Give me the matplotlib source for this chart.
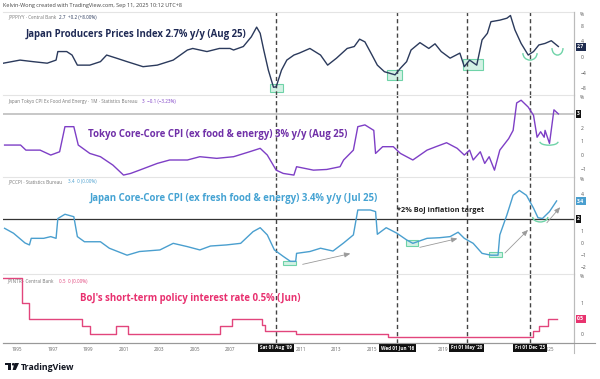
import matplotlib
matplotlib.use("Agg")
import matplotlib.pyplot as plt
import matplotlib.transforms as mtransforms
from matplotlib.patches import Rectangle, Arc, Circle, Polygon

# ---- data (decimal years) ----
ppi_dates = [1994.23, 1995.17, 1995.9, 1996.7, 1997.2, 1997.3, 1997.8, 1998.1, 1998.4, 1999.1,
             1999.7, 2000.05, 2000.6, 2001.2, 2002.1, 2002.9, 2003.8, 2004.6, 2004.9, 2005.7,
             2006.4, 2007.0, 2007.2, 2007.75, 2008.2, 2008.5, 2008.7, 2008.9, 2009.16, 2009.45,
             2009.6, 2009.9, 2010.2, 2010.6, 2010.9, 2011.5, 2012.1, 2012.5, 2013.0, 2013.6,
             2014.0, 2014.3, 2014.6, 2015.0, 2015.3, 2015.7, 2016.3, 2016.6, 2016.95, 2017.2,
             2017.7, 2018.2, 2018.55, 2018.9, 2019.4, 2019.95, 2020.2, 2020.5, 2020.9, 2021.2,
             2021.5, 2021.7, 2022.2, 2022.6, 2022.8, 2023.05, 2023.4, 2023.8, 2024.1, 2024.4,
             2024.75, 2025.1, 2025.5]
ppi_values = [-1.6, -0.8, -1.2, -1.6, -0.8, 1.4, 1.4, 0.5, -2.1, -2.1,
              -1.2, 0.5, -0.3, -1.2, -2.5, -2.1, -0.8, 1.8, 2.2, 1.4,
              2.2, 2.2, 1.8, 2.7, 5.2, 7.7, 6.1, 1.8, -3.4, -7.8,
              -7.7, -3.4, -0.8, 0.5, 1.0, 2.2, 0.5, -2.1, -0.3, 2.2,
              2.7, 4.6, 3.9, 0.5, -2.1, -3.8, -4.6, -2.9, -1.2, 1.8,
              3.7, 2.2, 3.4, 1.4, -0.3, 1.0, -2.5, -0.8, -2.1, 4.4,
              6.1, 9.1, 9.5, 10.0, 10.7, 7.0, 3.5, 0.5, 1.4, 3.1,
              3.5, 4.2, 2.7]

tokyo_dates = [1994.3, 1995.2, 1995.5, 1996.3, 1996.9, 1997.4, 1997.7, 1998.2, 1998.45, 1999.1,
               1999.7, 2000.4, 2001.0, 2001.4, 2001.9, 2002.9, 2003.6, 2004.6, 2005.3, 2006.25,
               2007.2, 2008.1, 2008.7, 2009.1, 2009.6, 2010.0, 2010.6, 2010.75, 2011.7, 2012.45,
               2013.2, 2013.4, 2013.95, 2014.2, 2014.6, 2015.1, 2015.2, 2015.6, 2016.2, 2016.6,
               2017.3, 2018.1, 2018.6, 2019.2, 2019.8, 2020.2, 2020.5, 2020.7, 2021.1, 2021.35,
               2021.6, 2021.9, 2022.2, 2022.7, 2022.95, 2023.15, 2023.4, 2023.8, 2024.1, 2024.3,
               2024.5, 2024.7, 2024.75, 2025.0, 2025.25, 2025.5]
tokyo_values = [0.73, 0.73, 0.36, 0.36, 0.0, 0.24, 2.07, 2.07, 0.73, 0.12,
                -0.12, -0.73, -1.46, -1.34, -1.1, -0.61, -0.36, -0.36, -0.12, -0.24,
                -0.12, 0.24, 0.49, 0.0, -1.1, -1.34, -1.46, -0.85, -1.1, -1.05,
                -0.85, -0.36, 0.36, 2.07, 2.2, 1.8, 0.12, 0.61, 0.61, 0.12,
                -0.36, 0.36, 0.61, 0.9, 0.49, 0.0, 0.36, -0.36, 0.24, -0.61,
                -0.12, -1.1, 0.36, 1.2, 1.8, 3.8, 4.0, 3.5, 2.9, 1.3,
                1.7, 1.3, 1.8, 0.85, 3.3, 3.0]

core_dates = [1994.3, 1994.8, 1995.45, 1995.7, 1995.8, 1996.5, 1996.9, 1997.2, 1997.3, 1997.7,
              1998.2, 1998.4, 1998.8, 1999.7, 2000.2, 2001.2, 2001.9, 2003.05, 2003.8, 2004.6,
              2005.3, 2005.9, 2006.8, 2007.6, 2008.3, 2008.7, 2009.1, 2009.5, 2010.0, 2010.4,
              2010.7, 2010.75, 2011.5, 2012.1, 2012.8, 2013.4, 2013.95, 2014.2, 2014.9, 2015.2,
              2015.3, 2015.8, 2016.4, 2016.95, 2017.3, 2018.1, 2018.8, 2019.4, 2019.85, 2020.2,
              2020.7, 2021.2, 2021.7, 2022.1, 2022.2, 2022.6, 2022.95, 2023.3, 2023.7, 2024.1,
              2024.35, 2024.6, 2025.0, 2025.4]
core_values = [1.2, 0.8, 0.0, -0.16, 0.38, 0.38, 0.52, 0.38, 2.0, 2.35,
               2.15, 0.52, 0.1, 0.1, -0.43, -1.0, -0.7, -0.57, -0.03, -0.3,
               -0.57, -0.25, -0.16, -0.03, 0.93, 1.25, 0.66, -0.57, -1.1, -1.5,
               -1.5, -0.85, -0.7, -0.43, -0.66, 0.0, 0.66, 2.7, 2.7, 2.57,
               0.71, 1.25, 0.8, 0.25, -0.03, 0.38, 0.43, 0.52, 0.88, 0.38,
               -0.03, -0.85, -1.0, -1.0, 0.66, 2.3, 3.9, 4.3, 3.9, 2.85,
               2.07, 2.0, 2.57, 3.44]

rate_dates = [1994.2, 1995.28, 1995.68, 1998.66, 1999.1, 2000.58, 2001.25, 2006.44, 2007.1,
              2008.8, 2008.95, 2010.7, 2015.9, 2024.05, 2024.4, 2024.93, 2025.45]
rate_values = [1.8, 1.0, 0.5, 0.25, 0.0, 0.25, 0.0, 0.25, 0.5,
               0.3, 0.1, 0.0, -0.1, 0.1, 0.25, 0.5, 0.5]

event_dates = [2009.58, 2016.42, 2020.33, 2023.92]
event_labels = ["Sat 01 Aug '09", "Wed 01 Jun '16", "Fri 01 May '20", "Fri 01 Dec '23"]
year_ticks = list(range(1995, 2026, 2))
hidden_years = [2009, 2017, 2021, 2023]  # sit under the date boxes

NAVY = "#2b3a5c"
PURPLE = "#7e3fc6"
BLUE = "#4a9fcf"
PINK = "#e2457c"
GREEN = "#6fd3a8"
GRID = "#e4e4e4"

plt.rcParams["font.family"] = ["Open Sans", "DejaVu Sans"]

W, H = 600, 379
fig = plt.figure(figsize=(W / 100, H / 100), dpi=100)
XMIN, XMAX = 1994.21, 2026.38


def panel(top, bottom):
    return fig.add_axes([3 / W, 1 - bottom / H, 571 / W, (bottom - top) / H])


ax1 = panel(12, 95)
ax2 = panel(95, 177)
ax3 = panel(177, 274)
ax4 = panel(274, 343)
axes = [ax1, ax2, ax3, ax4]

ax1.plot(ppi_dates, ppi_values, color=NAVY, lw=1.0)
ax2.plot(tokyo_dates, tokyo_values, color=PURPLE, lw=1.0)
ax3.plot(core_dates, core_values, color=BLUE, lw=1.0)
ax4.plot(rate_dates, rate_values, color=PINK, lw=1.0, drawstyle="steps-post")

ax1.set_ylim(-9.8, 11.6)
ax2.set_ylim(-1.6, 4.38)
ax3.set_ylim(-2.54, 5.4)
ax4.set_ylim(-0.29, 1.94)
ax1.set_yticks([8, 4, 0, -4, -8])
ax2.set_yticks([2, 1, 0, -1])
ax3.set_yticks([4, 1, 0, -1, -2])
ax4.set_yticks([1, 0])

for ax in axes:
    ax.set_xlim(XMIN, XMAX)
    ax.yaxis.tick_right()
    ax.tick_params(axis="y", labelsize=3.6, colors="#555555", length=0, pad=5)
    ax.set_yticklabels([str(t).replace("-", "\u2212") for t in ax.get_yticks()])
    for s in ["left", "bottom"]:
        ax.spines[s].set_visible(False)
    ax.spines["top"].set_color(GRID)
    ax.spines["top"].set_linewidth(0.8)
    ax.spines["right"].set_color("#bbbbbb")
    ax.spines["right"].set_linewidth(0.8)
    ax.patch.set_alpha(0)
    for d in event_dates:
        ax.axvline(d, color="#444444", lw=1.0, dashes=(3, 2.2), zorder=1)
    ax.text(1 + 6 / 571, 1, "%", transform=ax.transAxes, fontsize=3.6,
            color="#555555", ha="left", va="top")
    ax.set_xticks([])

ax4.spines["bottom"].set_visible(True)
ax4.spines["bottom"].set_color("#999999")
ax4.spines["bottom"].set_linewidth(0.8)
ax4.set_xticks(year_ticks)
ax4.set_xticklabels(["" if y in hidden_years else str(y) for y in year_ticks])
ax4.tick_params(axis="x", labelsize=3.3, colors="#666666", length=0, pad=3)

# reference lines
ax2.axhline(3, color="#bdbdbd", lw=1.2, zorder=0.5)
ax3.axhline(2, color="#333333", lw=0.9, zorder=0.5)


def tag(ax, val, text, color):
    tr = mtransforms.blended_transform_factory(ax.transAxes, ax.transData)
    ax.text(1 + 3 / 571, val, text, transform=tr, fontsize=3.6, color="white",
            ha="left", va="center", clip_on=False, weight="bold",
            bbox=dict(boxstyle="square,pad=0.3", fc=color, ec="none"))


tag(ax1, 2.7, "2.7", "#1f2c4f")
tag(ax2, 3, "3", "#111111")
tag(ax3, 3.4, "3.4", BLUE)
tag(ax3, 2, "2", "#111111")
tag(ax4, 0.5, "0.5", "#e8336f")

# event date labels under the time axis
tr4 = mtransforms.blended_transform_factory(ax4.transData, ax4.transAxes)
for d, lab in zip(event_dates, event_labels):
    ax4.text(d, -0.065, lab, transform=tr4, fontsize=3.3, color="white",
             ha="center", va="center", clip_on=False, weight="bold", zorder=10,
             bbox=dict(boxstyle="square,pad=0.45", fc="#111111", ec="none"))

# green highlight boxes and arcs
for ax, (x, y, w, h) in [(ax1, (2009.25, -9.0, 0.75, 2.0)),
                         (ax1, (2015.85, -5.9, 0.85, 2.55)),
                         (ax1, (2020.13, -3.35, 1.12, 2.85)),
                         (ax3, (2009.99, -1.8, 0.73, 0.32)),
                         (ax3, (2016.9, -0.25, 0.7, 0.5)),
                         (ax3, (2021.6, -1.15, 0.7, 0.41))]:
    ax.add_patch(Rectangle((x, y), w, h, fc=GREEN, ec="none", alpha=0.3, zorder=0.8))
    ax.add_patch(Rectangle((x, y), w, h, fill=False, ec=GREEN, lw=0.8, zorder=0.9))

for ax, (cx, cy, w, h) in [(ax1, (2023.9, 1.0, 0.8, 3.6)),
                           (ax1, (2025.45, 2.3, 0.62, 3.6)),
                           (ax2, (2024.97, 0.97, 1.02, 0.5)),
                           (ax3, (2024.48, 2.13, 0.85, 0.82))]:
    ax.add_patch(Arc((cx, cy), w, h, theta1=180, theta2=360, color=GREEN, lw=1.0))

for (x0, y0), (x1, y1) in [((2010.94, -1.8), (2013.93, -0.82)),
                           ((2017.54, -0.41), (2019.96, 0.41)),
                           ((2022.38, -0.98), (2023.9, 1.23)),
                           ((2024.75, 1.48), (2025.7, 3.1))]:
    ax3.annotate("", xy=(x1, y1), xytext=(x0, y0),
                 arrowprops=dict(arrowstyle="-|>,head_length=0.35,head_width=0.15",
                                 color="#9a9a9a", lw=0.6))

# panel titles and legends (figure pixel coordinates)
ov = fig.add_axes([0, 0, 1, 1])
ov.set_xlim(0, W)
ov.set_ylim(H, 0)
ov.axis("off")

title_kw = dict(fontsize=6.9, weight="bold", ha="left", va="center")
ov.text(26, 34, "Japan Producers Prices Index 2.7% y/y (Aug 25)", color="#1f2a55", **title_kw)
ov.text(88, 135, "Tokyo Core-Core CPI (ex food & energy) 3% y/y (Aug 25)", color="#7030a8", **title_kw)
ov.text(90, 199, "Japan Core-Core CPI (ex fresh food & energy) 3.4% y/y (Jul 25)", color="#45a3d3", **title_kw)
ov.text(80, 299, "BoJ's short-term policy interest rate 0.5% (Jun)", color="#e8306f", **title_kw)
ov.text(397, 211, "*2% BoJ inflation target", color="#222222", fontsize=5.3, weight="bold",
        ha="left", va="center")

leg_kw = dict(fontsize=3.3, ha="left", va="center")
for x, y, name, vx, vals, c in [
        (8, 17, "JPPPIYY \u00b7 Central Bank", 59, "2.7  +0.2 (+8.00%)", NAVY),
        (8, 102, "Japan Tokyo CPI Ex Food And Energy \u00b7 1M \u00b7 Statistics Bureau", 142,
         "3  \u22120.1 (\u22123.23%)", PURPLE),
        (8, 182, "JPCCPI \u00b7 Statistics Bureau", 68, "3.4  0 (0.00%)", BLUE),
        (7, 281, "JPINTR \u00b7 Central Bank", 59, "0.5  0 (0.00%)", PINK)]:
    ov.text(x, y, name, color="#777777", **leg_kw)
    ov.text(vx, y, vals, color=c, **leg_kw)

# header, axis frame extensions and logo
ov.text(3, 5, "Kelvin-Wong created with TradingView.com, Sep 11, 2025 10:12 UTC+8",
        fontsize=4.0, color="#444444", ha="left", va="center")
ov.plot([574, 574], [12, 353], color="#bbbbbb", lw=0.8)
ov.plot([3, 595], [343, 343], color="#999999", lw=0.8)
ov.add_patch(Rectangle((5, 363), 6, 2.2, fc="#131722", ec="none"))
ov.add_patch(Rectangle((8.3, 363), 2.7, 7, fc="#131722", ec="none"))
ov.add_patch(Circle((13.2, 364.3), 1.3, fc="#131722", ec="none"))
ov.add_patch(Polygon([(14.5, 363), (19, 363), (15.8, 370), (12.6, 370)], fc="#131722", ec="none"))
ov.text(21, 367, "TradingView", fontsize=6.3, weight="bold", color="#131722",
        ha="left", va="center")

fig.savefig("out.png", dpi=100)
